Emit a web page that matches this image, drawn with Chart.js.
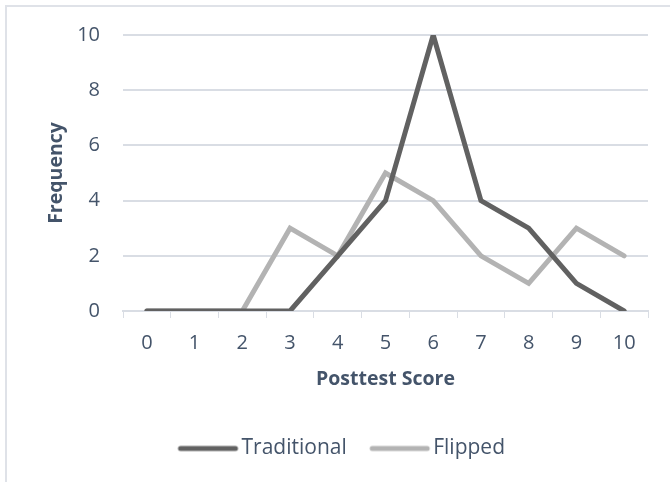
<!DOCTYPE html>
<html>
<head>
<meta charset="utf-8">
<script src="https://cdn.jsdelivr.net/npm/chart.js@4"></script>
<style>
  html, body { margin: 0; padding: 0; background: #fff; }
  #scoreChart { display: block; }
</style>
</head>
<body>
<canvas id="scoreChart" width="670" height="482"></canvas>
<script>
const SCORES = ["0", "1", "2", "3", "4", "5", "6", "7", "8", "9", "10"];
const TRADITIONAL = [0, 0, 0, 0, 2, 4, 10, 4, 3, 1, 0];
const FLIPPED = [0, 0, 0, 3, 2, 5, 4, 2, 1, 3, 2];

const TEXT_COLOR = "#44546a";
const GRID_COLOR = "#d9dde4";
const FONT = "'Open Sans', sans-serif";
const DARK = "#616161";
const LIGHT = "#b3b3b3";

// legend swatch: a thick line that sits right up against the label text
function lineSwatch(color) {
  const c = document.createElement("canvas");
  c.width = 67;
  c.height = 8;
  const g = c.getContext("2d");
  g.strokeStyle = color;
  g.lineWidth = 5;
  g.lineCap = "round";
  g.beginPath();
  g.moveTo(8, 4);
  g.lineTo(63, 4);
  g.stroke();
  return c;
}

// light frame on the top and left edge, like the original chart border
const framePlugin = {
  id: "frame",
  beforeDraw(chart) {
    const ctx = chart.ctx;
    ctx.save();
    ctx.strokeStyle = "#dfe2e8";
    ctx.lineWidth = 2;
    ctx.beginPath();
    ctx.moveTo(6, 482);
    ctx.lineTo(6, 6);
    ctx.lineTo(670, 6);
    ctx.stroke();
    ctx.restore();
  },
};

const ctx = document.getElementById("scoreChart");
new Chart(ctx, {
  type: "line",
  data: {
    labels: SCORES,
    datasets: [
      {
        label: "Traditional",
        data: TRADITIONAL,
        borderColor: DARK,
        backgroundColor: DARK,
        borderWidth: 5,
        borderCapStyle: "round",
        borderJoinStyle: "miter",
        pointRadius: 0,
        pointStyle: lineSwatch(DARK),
        tension: 0,
        clip: 0,
      },
      {
        label: "Flipped",
        data: FLIPPED,
        borderColor: LIGHT,
        backgroundColor: LIGHT,
        borderWidth: 5,
        borderCapStyle: "round",
        borderJoinStyle: "miter",
        pointRadius: 0,
        pointStyle: lineSwatch(LIGHT),
        tension: 0,
        clip: 0,
      },
    ],
  },
  options: {
    responsive: false,
    animation: false,
    layout: { padding: { left: 38, right: 22, top: 28, bottom: 13 } },
    plugins: {
      tooltip: { enabled: false },
      legend: {
        position: "bottom",
        labels: {
          color: TEXT_COLOR,
          font: { family: FONT, size: 21 },
          usePointStyle: true,
          pointStyleWidth: 50,
          boxHeight: 21,
          padding: 26,
        },
      },
    },
    scales: {
      x: {
        offset: true,
        grid: {
          offset: true,
          drawOnChartArea: false,
          drawTicks: true,
          tickLength: 7,
          color: GRID_COLOR,
        },
        border: { color: GRID_COLOR, width: 2 },
        ticks: {
          color: TEXT_COLOR,
          font: { family: FONT, size: 20 },
          padding: 13,
          maxRotation: 0,
        },
        title: {
          display: true,
          text: "Posttest Score",
          color: TEXT_COLOR,
          font: { family: FONT, size: 19.5, weight: "bold" },
          padding: { top: 4, bottom: 21 },
        },
        afterFit(scale) {
          scale.height = 101;
        },
      },
      y: {
        min: 0,
        max: 10,
        grid: { color: GRID_COLOR, lineWidth: 2, drawTicks: false },
        border: { display: false },
        ticks: {
          stepSize: 2,
          color: TEXT_COLOR,
          font: { family: FONT, size: 20 },
          padding: 23,
        },
        title: {
          display: true,
          text: "Frequency",
          color: TEXT_COLOR,
          font: { family: FONT, size: 19.5, weight: "bold" },
          padding: { top: 7, bottom: 0 },
        },
        afterFit(scale) {
          scale.width = 85;
        },
      },
    },
  },
  plugins: [framePlugin],
});
</script>
</body>
</html>
